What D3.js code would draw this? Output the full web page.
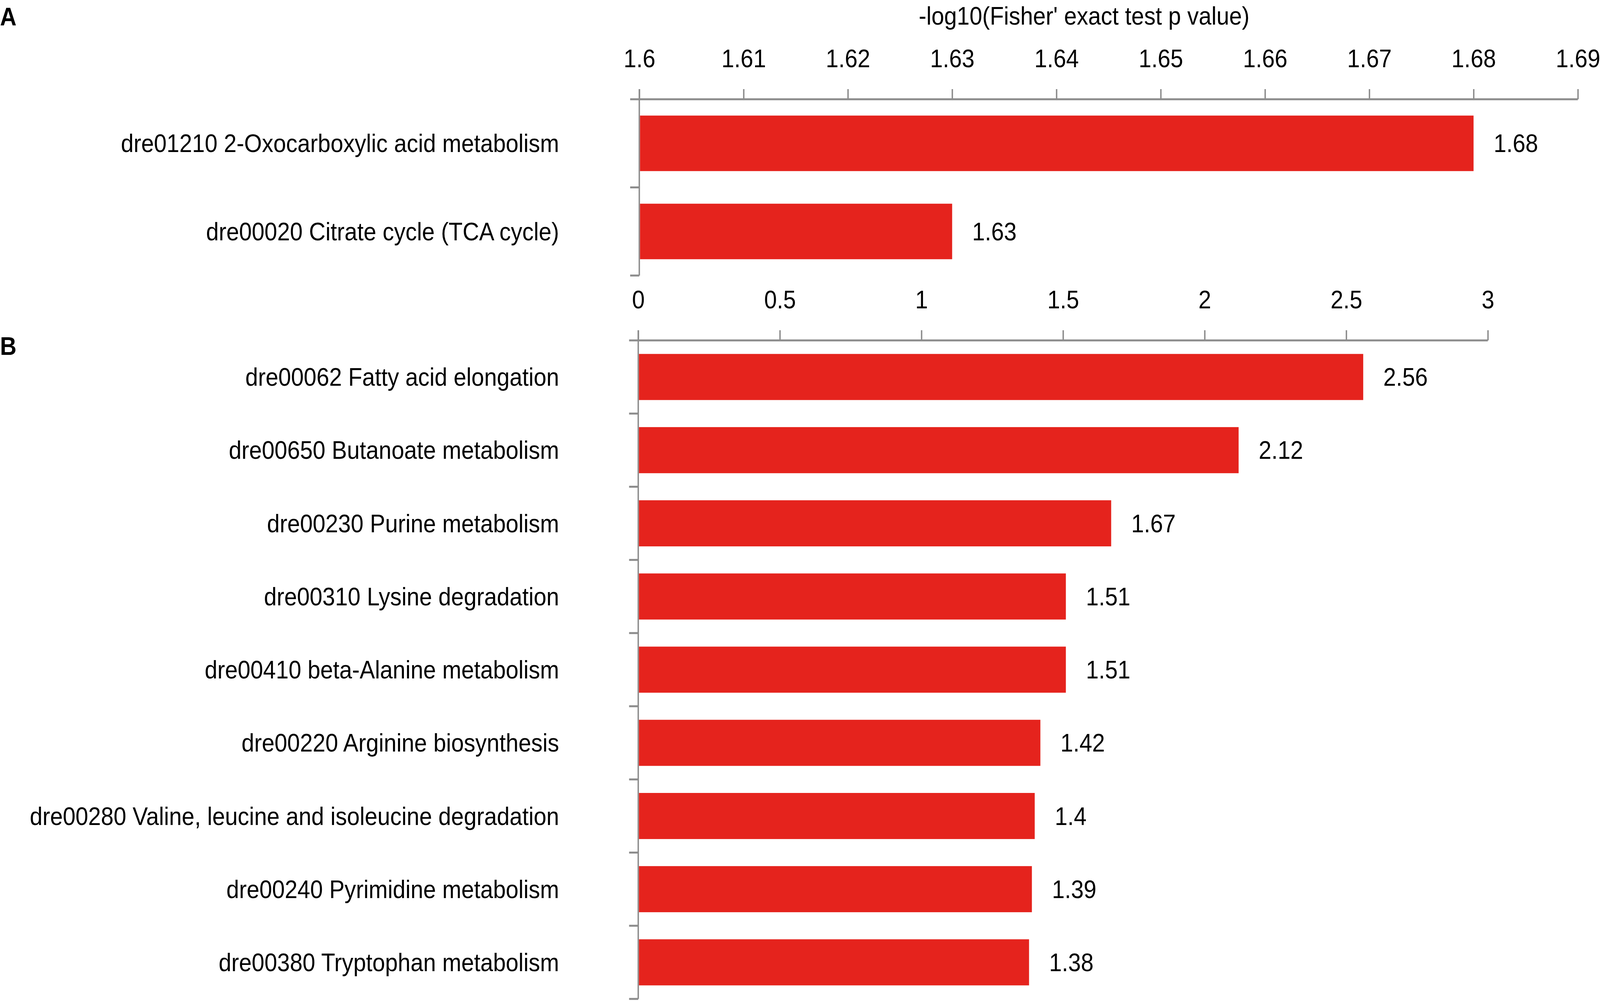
<!DOCTYPE html>
<html>
<head>
<meta charset="utf-8">
<script src="https://cdn.jsdelivr.net/npm/d3@7"></script>
<style>
  html, body { margin: 0; padding: 0; background: #fff; overflow: hidden; }
  #chart svg { display: block; width: 100vw; height: 100vh; }
  text { font-family: "Liberation Sans", Arial, sans-serif; fill: #000; }
</style>
</head>
<body>
<div id="chart"></div>
<script>
// Panel A: Fisher exact test, two pathways
const catsA = ['dre01210 2-Oxocarboxylic acid metabolism', 'dre00020 Citrate cycle (TCA cycle)'];
const valuesA = [1.68, 1.63];
const ticksA = [1.6, 1.61, 1.62, 1.63, 1.64, 1.65, 1.66, 1.67, 1.68, 1.69];

// Panel B: nine pathways
const catsB = [
    'dre00062 Fatty acid elongation',
    'dre00650 Butanoate metabolism',
    'dre00230 Purine metabolism',
    'dre00310 Lysine degradation',
    'dre00410 beta-Alanine metabolism',
    'dre00220 Arginine biosynthesis',
    'dre00280 Valine, leucine and isoleucine degradation',
    'dre00240 Pyrimidine metabolism',
    'dre00380 Tryptophan metabolism'
];
const valuesB = [2.56, 2.12, 1.67, 1.51, 1.51, 1.42, 1.4, 1.39, 1.38];
const ticksB = [0, 0.5, 1, 1.5, 2, 2.5, 3];

const axisTitle = "-log10(Fisher' exact test p value)";

const width = 4550, height = 2569;
const fontSize = 65;
const barColor = '#e5231d';
const axisColor = '#8c8c8c';
const labelRight = 1590;   // right edge of the pathway names
const tickLen = 26;

// the svg is scaled to fill the window whatever its real size
const svg = d3.select('#chart').append('svg')
    .attr('viewBox', `0 0 ${width} ${height}`)
    .attr('preserveAspectRatio', 'none');

svg.append('text')
    .attr('x', 3083)
    .attr('y', 40)
    .attr('text-anchor', 'middle')
    .attr('dominant-baseline', 'central')
    .style('font-size', fontSize + 'px')
    .text(axisTitle);

// Draws one bar panel; top = y of the horizontal axis line
function drawPanel(cats, values, ticks, xDomain, xRange, top, bottom, fmt) {
    const x = d3.scaleLinear().domain(xDomain).range(xRange);
    const y = d3.scaleBand().domain(cats).range([top, bottom])
        .paddingInner(0.37).paddingOuter(0.185);

    const g = svg.append('g');

    // top axis with ticks pointing up
    const axis = g.append('g')
        .attr('transform', `translate(0,${top})`)
        .call(d3.axisTop(x).tickValues(ticks).tickFormat(fmt)
            .tickSizeInner(tickLen).tickSizeOuter(0).tickPadding(56));
    axis.select('.domain').remove();
    axis.selectAll('.tick line')
        .attr('stroke', axisColor)
        .attr('stroke-width', 4);
    axis.selectAll('.tick text')
        .attr('fill', '#000')
        .style('font-family', '"Liberation Sans", Arial, sans-serif')
        .style('font-size', fontSize + 'px');

    g.append('line')
        .attr('x1', xRange[0] - tickLen).attr('x2', xRange[1])
        .attr('y1', top).attr('y2', top)
        .attr('stroke', axisColor)
        .attr('stroke-width', 5);

    // vertical category axis
    g.append('line')
        .attr('x1', xRange[0]).attr('x2', xRange[0])
        .attr('y1', top - tickLen).attr('y2', bottom)
        .attr('stroke', axisColor)
        .attr('stroke-width', 4);

    // ticks sit between the categories, not at their centres
    const bounds = cats.map(d => y(d) - y.step() * y.paddingInner() / 2).slice(1).concat([bottom]);
    g.selectAll('.ytick')
        .data(bounds)
        .enter()
        .append('line')
        .attr('class', 'ytick')
        .attr('x1', xRange[0] - tickLen).attr('x2', xRange[0])
        .attr('y1', d => d).attr('y2', d => d)
        .attr('stroke', axisColor)
        .attr('stroke-width', 5);

    g.selectAll('.bar')
        .data(values)
        .enter()
        .append('rect')
        .attr('class', 'bar')
        .attr('x', x(xDomain[0]) + 2)
        .attr('y', (d, i) => y(cats[i]))
        .attr('width', d => x(d) - x(xDomain[0]) - 2)
        .attr('height', y.bandwidth())
        .attr('fill', barColor);

    g.selectAll('.value')
        .data(values)
        .enter()
        .append('text')
        .attr('class', 'value')
        .attr('x', d => x(d) + 57)
        .attr('y', (d, i) => y(cats[i]) + y.bandwidth() / 2)
        .attr('dominant-baseline', 'central')
        .style('font-size', fontSize + 'px')
        .text(d => d);

    g.selectAll('.cat')
        .data(cats)
        .enter()
        .append('text')
        .attr('class', 'cat')
        .attr('x', labelRight)
        .attr('y', d => y(d) + y.bandwidth() / 2)
        .attr('text-anchor', 'end')
        .attr('dominant-baseline', 'central')
        .style('font-size', fontSize + 'px')
        .text(d => d);
}

drawPanel(catsA, valuesA, ticksA, [1.6, 1.69], [1818, 4487], 254, 705, d => String(+d.toFixed(2)));
drawPanel(catsB, valuesB, ticksB, [0, 3], [1815, 4231], 871, 2556, d => String(d));

// panel letters
svg.append('text')
    .attr('x', 0).attr('y', 42)
    .attr('dominant-baseline', 'central')
    .style('font-size', fontSize + 'px')
    .style('font-weight', 'bold')
    .text('A');
svg.append('text')
    .attr('x', 0).attr('y', 885)
    .attr('dominant-baseline', 'central')
    .style('font-size', fontSize + 'px')
    .style('font-weight', 'bold')
    .text('B');
</script>
</body>
</html>
